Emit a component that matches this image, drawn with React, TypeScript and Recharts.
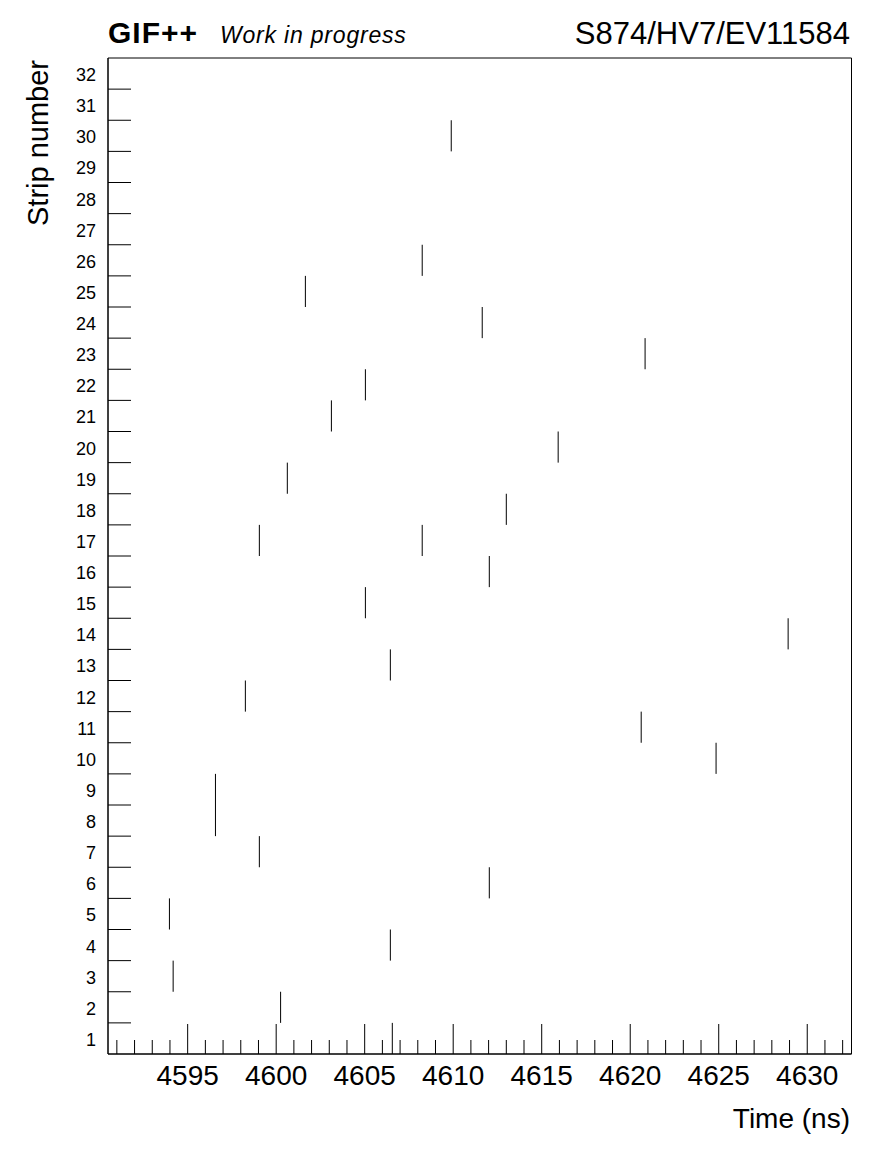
import React from 'react'
import { ScatterChart, Scatter, XAxis, YAxis, ReferenceArea, Customized } from 'recharts'

// hits: strip number and hit time (ns)
const hitStrip = [30, 26, 25, 24, 23, 22, 21, 20, 19, 18, 17, 17, 16, 15, 14, 13, 12, 11, 10, 9, 8, 7, 6, 5, 4, 3, 2, 1]
const hitTime = [
    4609.89, 4608.25, 4601.65, 4611.64, 4620.84, 4605.04, 4603.12, 4615.93, 4600.63, 4613.0,
    4599.05, 4608.25, 4612.04, 4605.04, 4628.92, 4606.45, 4598.26, 4620.62, 4624.85, 4596.57,
    4596.57, 4599.05, 4612.04, 4593.97, 4606.45, 4594.18, 4600.25, 4606.56,
]

const xDomain = [4590.5, 4632.5]
const yDomain = [0.5, 32.5]
const xMinorTicks = [
    4591, 4592, 4593, 4594, 4595, 4596, 4597, 4598, 4599, 4600, 4601, 4602, 4603, 4604,
    4605, 4606, 4607, 4608, 4609, 4610, 4611, 4612, 4613, 4614, 4615, 4616, 4617, 4618,
    4619, 4620, 4621, 4622, 4623, 4624, 4625, 4626, 4627, 4628, 4629, 4630, 4631, 4632,
]
const xMajorLabels = [4595, 4600, 4605, 4610, 4615, 4620, 4625, 4630]
const stripLabels = [
    1, 2, 3, 4, 5, 6, 7, 8, 9, 10, 11, 12, 13, 14, 15, 16,
    17, 18, 19, 20, 21, 22, 23, 24, 25, 26, 27, 28, 29, 30, 31, 32,
]
const stripEdges = [
    1.5, 2.5, 3.5, 4.5, 5.5, 6.5, 7.5, 8.5, 9.5, 10.5, 11.5, 12.5, 13.5, 14.5, 15.5, 16.5,
    17.5, 18.5, 19.5, 20.5, 21.5, 22.5, 23.5, 24.5, 25.5, 26.5, 27.5, 28.5, 29.5, 30.5, 31.5,
]

const hits = hitStrip.map((s, i) => ({ strip: s, t: hitTime[i] }))

const FONT = '"Liberation Sans", Arial, Helvetica, sans-serif'
const W = 896
const H = 1172
const PLOT_TOP = 58
const PLOT_H = 996
const HALF_STRIP = PLOT_H / 32 / 2

const renderXTick = (props: any) => {
    const { x, y, payload } = props
    const major = xMajorLabels.includes(payload.value)
    return (
        <g>
            <line x1={x} x2={x} y1={y} y2={y - (major ? 30 : 14)} stroke="#000" />
            {major && (
                <text x={x} y={y + 31} textAnchor="middle" fontFamily={FONT} fontSize={28} fill="#000">
                    {payload.value}
                </text>
            )}
        </g>
    )
}

const renderYTick = (props: any) => {
    const { x, y, payload } = props
    if (Number.isInteger(payload.value)) {
        return (
            <text x={x - 12} y={y + 7.5} textAnchor="end" fontFamily={FONT} fontSize={18} fill="#000">
                {payload.value}
            </text>
        )
    }
    return <line x1={x} x2={x + 23} y1={y} y2={y} stroke="#000" />
}

const renderHit = (props: any) => {
    const { cx, cy } = props
    return <line x1={cx} x2={cx} y1={cy - HALF_STRIP} y2={cy + HALF_STRIP} stroke="#000" />
}

const Titles = () => (
    <g fontFamily={FONT} fill="#000">
        <text x={108} y={43} fontSize={30} fontWeight="bold" letterSpacing={1}>GIF++</text>
        <text x={220} y={43} fontSize={23} fontStyle="italic" letterSpacing={0.8}>Work in progress</text>
        <text x={850} y={44} fontSize={31} textAnchor="end">S874/HV7/EV11584</text>
        <text x={850} y={1128} fontSize={28} textAnchor="end">Time (ns)</text>
        <text x={48} y={60} fontSize={29} textAnchor="end" transform="rotate(-90 48 60)">Strip number</text>
    </g>
)

export default function App() {
    return (
        <div style={{ position: 'absolute', left: 0, top: 0, background: '#fff' }}>
            <ScatterChart
                width={W}
                height={H}
                margin={{ top: PLOT_TOP, right: 44.5, bottom: 0, left: 0 }}
            >
                <XAxis
                    type="number"
                    dataKey="t"
                    domain={xDomain}
                    ticks={xMinorTicks}
                    interval={0}
                    tickSize={0}
                    tickMargin={0}
                    height={118}
                    axisLine={{ stroke: '#000' }}
                    tick={renderXTick}
                    allowDataOverflow
                />
                <YAxis
                    type="number"
                    dataKey="strip"
                    domain={yDomain}
                    ticks={[...stripLabels, ...stripEdges]}
                    interval={0}
                    tickSize={0}
                    tickMargin={0}
                    width={108}
                    axisLine={{ stroke: '#000' }}
                    tick={renderYTick}
                    allowDataOverflow
                />
                <ReferenceArea
                    x1={xDomain[0]}
                    x2={xDomain[1]}
                    y1={yDomain[0]}
                    y2={yDomain[1]}
                    fill="none"
                    stroke="#000"
                    ifOverflow="visible"
                />
                <Scatter data={hits} shape={renderHit} isAnimationActive={false} />
                <Customized component={Titles} />
            </ScatterChart>
        </div>
    )
}
